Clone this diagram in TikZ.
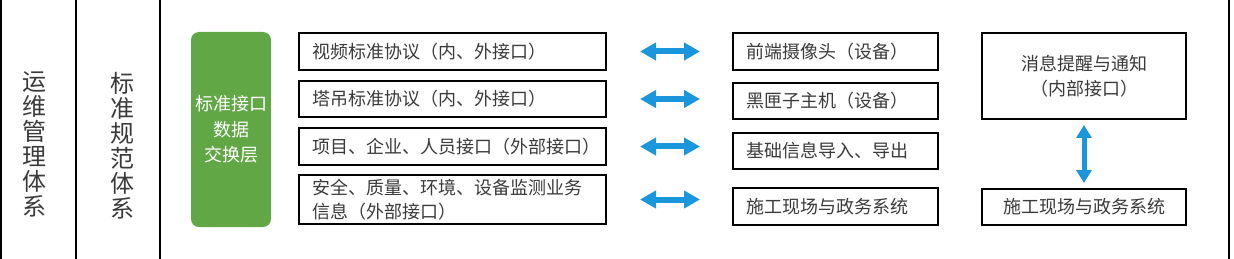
\documentclass[tikz,border=0pt]{standalone}
\usepackage{fontspec}
\usepackage{tikz}
\usetikzlibrary{arrows.meta}
\setmainfont{Noto Sans CJK SC}
\definecolor{layergreen}{HTML}{62A745}
\definecolor{linkblue}{HTML}{1A96DC}
\definecolor{textgray}{HTML}{3A3A3A}

\begin{document}
\begin{tikzpicture}[x=1pt,y=-1pt,
  frame/.style={line width=2pt,black},
  stdbox/.style={draw=black,line width=2pt,anchor=north west,inner xsep=13pt,
    minimum width=307pt,text width=281pt,align=left,text=textgray,
    font=\fontsize{18}{24.5}\selectfont},
  devbox/.style={stdbox,minimum width=205pt,text width=179pt},
  msgbox/.style={draw=black,line width=2pt,anchor=north west,minimum width=204pt,
    align=center,text=textgray,font=\fontsize{18}{25}\selectfont},
  hlink/.style={line width=6pt,linkblue,shorten <=33pt,shorten >=32pt,
    {Triangle[length=16pt,width=17pt]}-{Triangle[length=16pt,width=17pt]}},
  vlink/.style={line width=5pt,linkblue,shorten <=5pt,shorten >=5pt,
    {Triangle[length=13pt,width=15pt]}-{Triangle[length=13pt,width=15pt]}}]
  \useasboundingbox (0,0) rectangle (1234,259);
  \draw[frame] (1,0) -- (1,259);
  \draw[frame] (76,0) -- (76,259);
  \draw[frame] (160,0) -- (160,259);
  \draw[frame] (1229,0) -- (1229,259);

  \node[align=center,text=textgray,font=\fontsize{24}{25}\selectfont] (ops) at (35,144)
    {运\\维\\管\\理\\体\\系};
  \node[align=center,text=textgray,font=\fontsize{24}{25}\selectfont] (norm) at (122,145.5)
    {标\\准\\规\\范\\体\\系};

  \node[fill=layergreen,rounded corners=8pt,anchor=north west,inner sep=0pt,outer sep=0pt,
    minimum width=80pt,minimum height=195pt,align=center,text=white,
    font=\fontsize{18}{25.5}\selectfont] (hub) at (191,32) {标准接口\\数据\\交换层};

  \node[stdbox,minimum height=37pt] (std1) at (298,32) {视频标准协议（内、外接口）};
  \node[stdbox,minimum height=36pt] (std2) at (298,80) {塔吊标准协议（内、外接口）};
  \node[stdbox,minimum height=37pt] (std3) at (298,127) {项目、企业、人员接口（外部接口）};
  \node[stdbox,minimum height=49pt] (std4) at (298,174)
    {安全、质量、环境、设备监测业务\\信息（外部接口）};

  \node[devbox,minimum height=37pt] (dev1) at (732,32) {前端摄像头（设备）};
  \node[devbox,minimum height=36pt] (dev2) at (732,82) {黑匣子主机（设备）};
  \node[devbox,minimum height=36pt] (dev3) at (732,132) {基础信息导入、导出};
  \node[devbox,minimum height=37pt] (dev4) at (732,187) {施工现场与政务系统};

  \node[msgbox,minimum height=86pt] (msg) at (981,32) {消息提醒与通知\\（内部接口）};
  \node[msgbox,minimum height=36pt] (gov) at (981,188) {施工现场与政务系统};

  \draw[hlink] (std1.east) -- (std1.east -| dev1.west);
  \draw[hlink] (std2.east) -- (std2.east -| dev2.west);
  \draw[hlink] (std3.east) -- (std3.east -| dev3.west);
  \draw[hlink] (std4.east) -- (std4.east -| dev4.west);
  \draw[vlink] (msg.south) -- (gov.north);
\end{tikzpicture}
\end{document}
